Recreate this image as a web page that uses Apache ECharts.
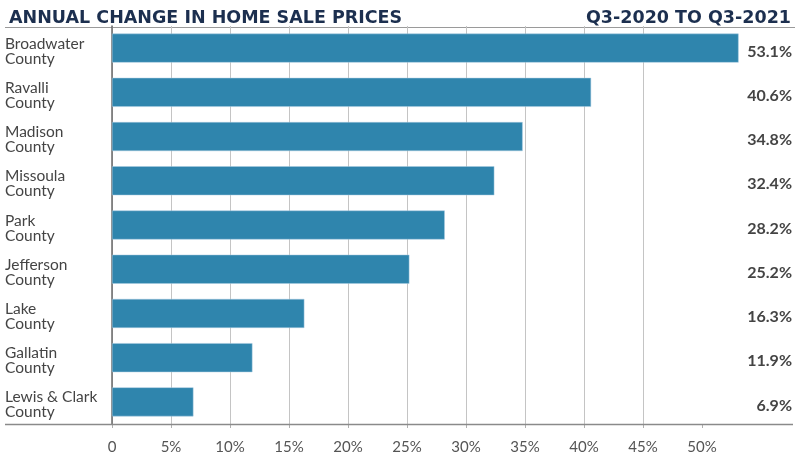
<!DOCTYPE html>
<html>
<head>
<meta charset="utf-8">
<script src="https://cdn.jsdelivr.net/npm/echarts@6/dist/echarts.min.js"></script>
<style>
html,body{margin:0;padding:0;background:#fff;}
#chart{width:800px;height:464px;}
</style>
</head>
<body>
<div id="chart"></div>
<script>
const categories = ["Broadwater\nCounty","Ravalli\nCounty","Madison\nCounty","Missoula\nCounty","Park\nCounty","Jefferson\nCounty","Lake\nCounty","Gallatin\nCounty","Lewis & Clark\nCounty"];
const values = [53.1, 40.6, 34.8, 32.4, 28.2, 25.2, 16.3, 11.9, 6.9];
const tickValues = [0, 5, 10, 15, 20, 25, 30, 35, 40, 45, 50];
const tickLabels = ["0","5%","10%","15%","20%","25%","30%","35%","40%","45%","50%"];
const titleText = "ANNUAL CHANGE IN HOME SALE PRICES";
const periodText = "Q3-2020 TO Q3-2021";

const chart = echarts.init(document.getElementById('chart'));
const FONT = "Lato, 'Open Sans', sans-serif";
const TITLE_FONT = "'DejaVu Sans', Lato, sans-serif";

chart.setOption({
  animation: false,
  backgroundColor: '#ffffff',
  title: [
    {text: titleText, left: 4, top: 4, textStyle: {fontFamily: TITLE_FONT, fontSize: 17.5, fontWeight: 'bold', color: '#1c2f4f'}},
    {text: periodText, right: 4, top: 4, textStyle: {fontFamily: TITLE_FONT, fontSize: 17.5, fontWeight: 'bold', color: '#1c2f4f'}}
  ],
  graphic: [
    {type: 'line', shape: {x1: 5, y1: 27.5, x2: 795, y2: 27.5}, style: {stroke: '#9a9a9a', lineWidth: 1}, silent: true},
    {type: 'line', shape: {x1: 5, y1: 424.5, x2: 793, y2: 424.5}, style: {stroke: '#8a8a8a', lineWidth: 1.5}, silent: true, z: 10}
  ],
  grid: {left: 112, right: 39, top: 26, bottom: 40, containLabel: false},
  xAxis: {
    type: 'value', min: 0, max: 55, interval: 5,
    axisLine: {show: false},
    axisTick: {show: true, customValues: tickValues, length: 4, lineStyle: {color: '#b0b0b0', width: 1}},
    splitLine: {show: true, showMaxLine: false, lineStyle: {color: '#c4c4c4', width: 1}},
    axisLabel: {
      customValues: tickValues,
      margin: 16, color: '#555', fontFamily: FONT, fontSize: 15,
      formatter: function (v) { const i = tickValues.indexOf(v); return i >= 0 ? tickLabels[i] : ''; }
    }
  },
  yAxis: [
    {
      type: 'category', data: categories, inverse: true,
      axisLine: {show: true, lineStyle: {color: '#6a6a6a', width: 1.5}},
      axisTick: {show: false},
      axisLabel: {
        align: 'left', margin: 107,
        formatter: function (v) { return '{s| }\n' + v.split('\n').map(function (t) { return '{a|' + t + '}'; }).join('\n'); },
        rich: {
          s: {lineHeight: 6, fontSize: 4},
          a: {color: '#444', fontFamily: FONT, fontSize: 15.5, lineHeight: 15}
        }
      }
    },
    {
      type: 'category', data: values.map(v => v.toFixed(1) + '%'), inverse: true, position: 'right',
      axisLine: {show: false}, axisTick: {show: false},
      axisLabel: {
        align: 'right', margin: 31,
        formatter: function (v) { return '{s| }\n{v|' + v + '}'; },
        rich: {
          s: {lineHeight: 7, fontSize: 4},
          v: {color: '#444', fontFamily: FONT, fontSize: 16, fontWeight: 'bold', lineHeight: 20}
        }
      }
    }
  ],
  series: [{
    type: 'bar', data: values, barWidth: 29,
    itemStyle: {color: '#2f85ad', borderColor: '#a9cbe0', borderWidth: 0.5},
    silent: true
  }]
});
</script>
</body>
</html>
